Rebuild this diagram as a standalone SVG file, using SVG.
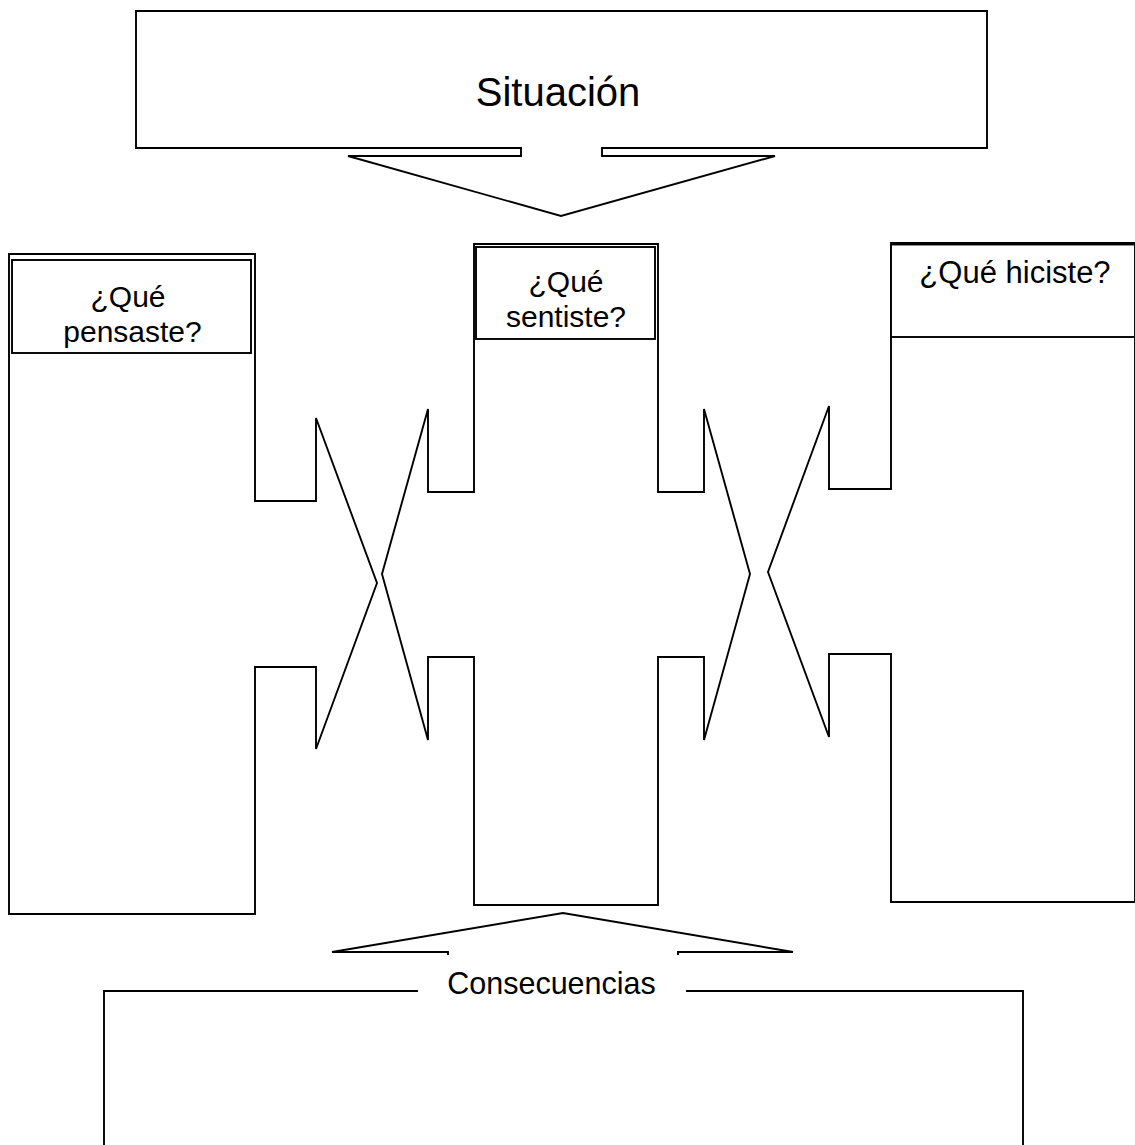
<svg xmlns="http://www.w3.org/2000/svg" width="1135" height="1145" viewBox="0 0 1135 1145">
  <style>
    .shape { fill: #ffffff; stroke: #000000; stroke-width: 1.9; stroke-linejoin: miter; }
    .line { fill: none; stroke: #000000; stroke-width: 1.9; }
    .head { fill: #ffffff; stroke: #000000; stroke-width: 1.9; }
    .label { font-family: "Liberation Sans", Arial, sans-serif; fill: #000000; text-anchor: middle; }
  </style>
  <rect width="1135" height="1145" fill="#ffffff"/>

  <!-- Situation box with downward callout arrow -->
  <g id="situacion">
    <path class="shape" d="M136,11 H987 V148 H602 V156 H775 L561,216 L348,156 H521 V148 H136 Z"/>
    <text class="label" x="558" y="106" font-size="40">Situación</text>
  </g>

  <!-- Left column: thoughts, arrow pointing right -->
  <g id="pensaste">
    <path class="shape" d="M9,254 H255 V501 H316 V418 L377,583 L316,749 V667 H255 V914 H9 Z"/>
    <rect class="head" x="12" y="260" width="239" height="93"/>
    <text class="label" x="128" y="307" font-size="30">¿Qué</text>
    <text class="label" x="132.5" y="342" font-size="30">pensaste?</text>
  </g>

  <!-- Middle column: feelings, arrows on both sides -->
  <g id="sentiste">
    <path class="shape" d="M474,244 H658 V492 H704 V409 L750,574 L704,740 V657 H658 V905 H474 V657 H428 V740 L382,574 L428,409 V492 H474 Z"/>
    <rect class="head" x="476" y="247" width="179" height="92"/>
    <text class="label" x="566" y="292" font-size="30">¿Qué</text>
    <text class="label" x="566" y="327" font-size="30">sentiste?</text>
  </g>

  <!-- Right column: actions, arrow pointing left -->
  <g id="hiciste">
    <path class="shape" d="M891,243 H1135 V902 H891 V654 H829 V737 L768,572 L829,406 V489 H891 Z"/>
    <rect class="head" x="891" y="244.5" width="244" height="92.5"/>
    <text class="label" x="1015" y="283" font-size="31">¿Qué hiciste?</text>
  </g>

  <!-- Consequences box with upward callout arrow -->
  <g id="consecuencias">
    <path class="line" d="M448,955 V952 H332 L563,913 L793,952 H678 V955"/>
    <path class="line" d="M104,1146 V991 H418"/>
    <path class="line" d="M686,991 H1023 V1146"/>
    <text class="label" x="551.5" y="994" font-size="30.5">Consecuencias</text>
  </g>

  <g id="connectors"></g>
</svg>
